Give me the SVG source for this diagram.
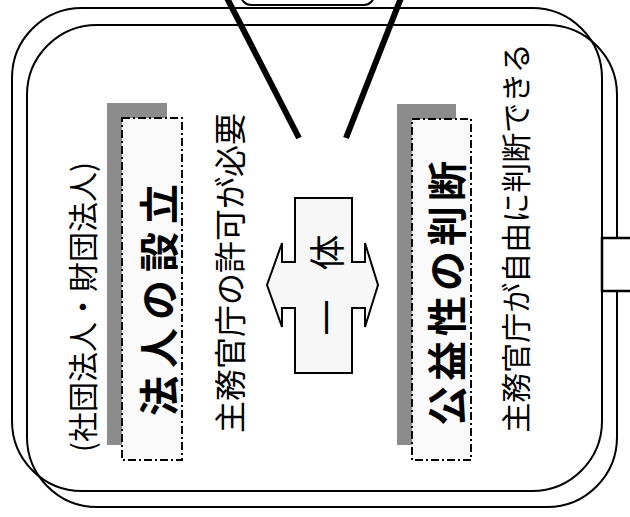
<svg xmlns="http://www.w3.org/2000/svg" width="630" height="517" viewBox="0 0 630 517">
<style>
.frame{fill:none;stroke:#000;stroke-width:2}
.shadow{fill:#8c8c8c}
.dbox{fill:#fafafa;stroke:#000;stroke-width:2;stroke-dasharray:8 3 2 3}
.t{font-family:"Noto Sans CJK JP","Noto Sans CJK SC",sans-serif;fill:#000;text-anchor:middle;dominant-baseline:central}
.title{font-size:40px;font-weight:700}
.conn{stroke:#000;stroke-width:6;fill:none}
</style>
<rect width="630" height="517" fill="#fff"/>
<g id="top-node">
<rect x="241" y="-40" width="133" height="45" rx="10" fill="#fff" stroke="#000" stroke-width="2"/>
</g>
<g id="frame">
<rect class="frame" x="27" y="25" width="590" height="482" rx="70"/>
<rect class="frame" x="12" y="8" width="590" height="483" rx="70"/>
</g>
<g id="right-node">
<rect x="602" y="238" width="40" height="53" fill="#fff" stroke="#000" stroke-width="2.5"/>
</g>
<g id="left-label">
<text class="t" font-size="30" transform="translate(81,307) rotate(-90)">(社団法人・財団法人)</text>
</g>
<g id="node-setsuritsu">
<rect class="shadow" x="107" y="103" width="60" height="342"/>
<rect class="dbox" x="122" y="118" width="60" height="342"/>
<text class="t title" letter-spacing="8" transform="translate(157,296) rotate(-90)">法人の設立</text>
</g>
<g id="note-left">
<text class="t" font-size="32" transform="translate(228,273) rotate(-90)">主務官庁の許可が必要</text>
</g>
<g id="node-ittai">
<path d="M295,198 L352,198 L352,262 L365,262 L365,243 L378,285 L365,327 L365,308 L352,308 L352,373 L295,373 L295,308 L282,308 L282,327 L267,285 L282,243 L282,262 L295,262 Z" fill="#f7f7f7" stroke="#000" stroke-width="2"/>
<text class="t" font-size="36" transform="translate(325,285) rotate(-90)">一<tspan dx="29">体</tspan></text>
</g>
<g id="node-handan">
<rect class="shadow" x="397" y="104" width="59" height="341"/>
<rect class="dbox" x="412" y="119" width="59" height="341"/>
<text class="t title" letter-spacing="5" transform="translate(445,291) rotate(-90)">公益性の判断</text>
</g>
<g id="note-right">
<text class="t" font-size="30" transform="translate(514,238) rotate(-90)">主務官庁が自由に判断できる</text>
</g>
<g id="connectors">
<line class="conn" x1="227" y1="-2" x2="299" y2="138"/>
<line class="conn" x1="401" y1="-2" x2="346" y2="138"/>
</g>
</svg>
